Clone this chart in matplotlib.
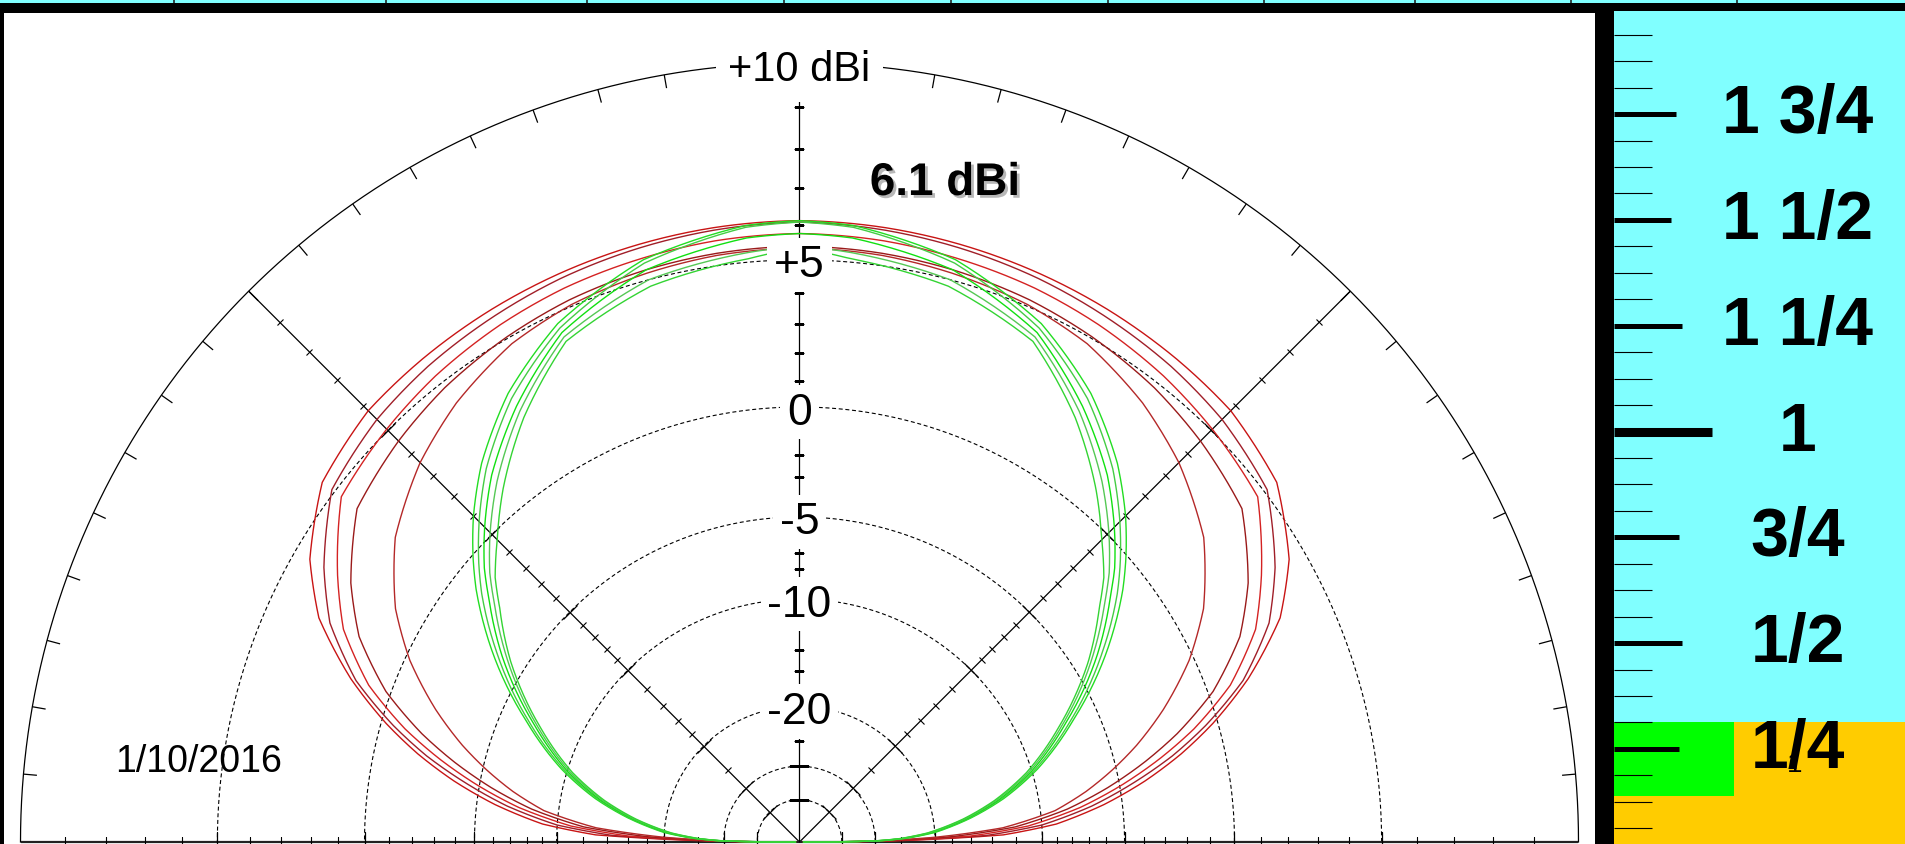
import numpy as np
import matplotlib
matplotlib.use('Agg')
import matplotlib.pyplot as plt
import matplotlib.patheffects as pe
from matplotlib.markers import MarkerStyle
from matplotlib.transforms import Affine2D
from matplotlib.patches import Rectangle

plt.rcParams['font.family'] = ['Liberation Sans', 'DejaVu Sans']

# --- elevation patterns, gain in dBi vs elevation angle (deg), symmetric ---
elev_red = [0, 0.5, 1, 2, 4, 7, 10, 13, 16, 20, 25, 30, 37, 45, 52, 60, 67, 75, 82, 90]
red_1 = [-80, -30, -22, -13, -9, -6, -3.7, -1.8, -0.2, 1.6, 3.4, 4.5, 5.45, 5.8, 5.88, 5.95, 6.0, 6.05, 6.09, 6.12]
red_2 = [-80, -31, -23.5, -14.5, -10, -6.7, -4.3, -2.2, -0.5, 1.4, 3.0, 4.0, 5.1, 5.45, 5.62, 5.75, 5.86, 5.95, 6.02, 6.08]
red_3 = [-80, -32, -25, -16, -11, -7.4, -4.9, -2.8, -1.0, 0.9, 2.5, 3.5, 4.75, 5.05, 5.27, 5.45, 5.57, 5.65, 5.72, 5.76]
red_4 = [-80, -33, -26.5, -18, -12, -8.2, -5.65, -3.55, -1.75, 0.2, 1.9, 3.0, 4.15, 4.55, 4.83, 5.05, 5.2, 5.3, 5.36, 5.4]
red_5 = [-80, -35, -28, -20, -13, -9, -6.9, -5.2, -3.7, -2.0, -0.2, 1.2, 2.6, 3.6, 4.25, 4.8, 5.05, 5.2, 5.3, 5.35]

elev_green = [0, 0.5, 1, 2, 4, 8, 12, 17, 24, 32, 38, 41, 45, 50, 57, 65, 75, 85, 90]
green_1 = [-80, -34, -28, -24, -20, -15.8, -12.6, -9.6, -6.4, -3.1, -1.0, -0.1, 1.0, 2.2, 3.55, 4.7, 5.6, 6.05, 6.12]
green_2 = [-80, -34.3, -28.3, -24.3, -20.3, -16.0, -12.8, -9.8, -6.6, -3.4, -1.3, -0.4, 0.7, 1.95, 3.35, 4.55, 5.5, 6.0, 6.08]
green_3 = [-80, -34.5, -28.5, -24.5, -20.5, -16.2, -13.0, -10.0, -6.9, -3.7, -1.7, -0.7, 0.4, 1.65, 3.05, 4.4, 5.3, 5.7, 5.76]
green_4 = [-80, -34.8, -28.8, -24.8, -20.8, -16.4, -13.2, -10.2, -7.1, -4.0, -2.0, -1.0, 0.1, 1.35, 2.85, 4.25, 5.0, 5.28, 5.40]
green_5 = [-80, -35, -29, -25, -21, -16.6, -13.4, -10.4, -7.3, -4.2, -2.3, -1.3, -0.3, 1.0, 2.6, 4.1, 4.8, 5.1, 5.35]

# --- grid ---
ring_db = [5, 0, -5, -10, -20, -30, -40]
label_db = [5, 0, -5, -10, -20]
label_txt = ['+5', '0', '-5', '-10', '-20']
minor_db = [9, 8, 7, 6, 4, 3, 2, 1, -1, -2, -3, -4, -6, -7, -8, -9,
            -12, -14, -16, -18, -25]
outer_tick_deg = [d for d in range(5, 180, 5) if d != 90]

# --- ruler panel ---
ruler_values = [1.75, 1.5, 1.25, 1.0, 0.75, 0.5, 0.25]
ruler_labels = ['1 3/4', '1 1/2', '1 1/4', '1', '3/4', '1/2', '1/4']


def arrl(db):
    return 0.89 ** ((10.0 - np.asarray(db, dtype=float)) / 2.0)


def arrl_inv(r):
    r = np.clip(np.asarray(r, dtype=float), 1e-300, None)
    return 10.0 - 2.0 * np.log(r) / np.log(0.89)


W, H = 1905, 845
fig = plt.figure(figsize=(W / 100, H / 100), dpi=100)
fig.patch.set_facecolor('black')

# background pieces in pixel coordinates
bg = fig.add_axes([0, 0, 1, 1])
bg.set_xlim(0, W)
bg.set_ylim(H, 0)
bg.axis('off')
bg.add_patch(Rectangle((0, 0), W, 4, color='#80FFFF', lw=0))
bg.vlines([174, 386, 587, 784, 951, 1108, 1264, 1415, 1571, 1737], 0, 4,
          color='#222222', lw=1.2)
bg.add_patch(Rectangle((4, 14), 1591, H - 14, color='white', lw=0))
bg.add_patch(Rectangle((1614, 12), W - 1614, 711, color='#80FFFF', lw=0))
bg.add_patch(Rectangle((1614, 723), W - 1614, H - 723, color='#FFCC00', lw=0))
bg.add_patch(Rectangle((1614, 723), 120, 74, color='#00FF00', lw=0))

# polar elevation plot (ARRL log scale); full disc, lower half off the canvas
cx, cy, R = 799.5, 843.0, 779.0
ax = fig.add_axes([(cx - R) / W, (H - cy - R) / H, 2 * R / W, 2 * R / H],
                  projection='polar')
ax.set_theta_zero_location('E')
ax.set_rscale('function', functions=(arrl, arrl_inv))
ax.set_rlim(-200, 10)
ax.set_xticks([])
ax.set_yticks([])
ax.grid(False)
for s in ax.spines.values():
    s.set_visible(False)
ax.patch.set_visible(False)

t = np.linspace(0, np.pi, 721)
ax.plot(t, np.full_like(t, 10.0), color='black', lw=0.9, clip_on=False)
for db in ring_db:
    ax.plot(t, np.full_like(t, float(db)), color='black', lw=0.8,
            ls=(0, (3.6, 2.4)))

ax.vlines(np.radians(outer_tick_deg), 9.7, 10, color='black', lw=0.9)
ax.vlines(np.radians([45, 135]), -200, 10, color='black', lw=0.9)
ax.vlines(np.radians([0, 180]), -200, 10, color='#222222', lw=1.6,
          clip_on=False)
ax.vlines(np.radians([90]), -200, 9.3, color='black', lw=0.9)

for th in [0, 45, 90, 135, 180]:
    m = MarkerStyle('_', transform=Affine2D().rotate_deg(th + 90))
    n = np.full(len(minor_db), np.radians(th))
    ax.plot(n, minor_db, ls='none', marker=m, ms=7, mew=0.8, color='black')
    n = np.full(len(ring_db), np.radians(th))
    ax.plot(n, ring_db, ls='none', marker=m, ms=14, mew=0.9, color='black')

red_cols = ['#C81414', '#A01E28', '#D42222', '#9A1A1A', '#B42828']
green_cols = ['#22DD22', '#44CC44', '#11E011', '#55C855', '#33D433']


def pattern(elev, vals, col):
    th = np.radians(elev)
    th = np.concatenate([th, np.pi - th[::-1]])
    rv = np.concatenate([vals, vals[::-1]])
    ln, = ax.plot(th, rv, color=col, lw=1.0, clip_on=False, zorder=3)
    # draw segments as arcs in the polar projection
    ln.get_path()._interpolation_steps = 24


for vals, col in zip([red_1, red_2, red_3, red_4, red_5], red_cols):
    pattern(elev_red, vals, col)
for vals, col in zip([green_1, green_2, green_3, green_4, green_5], green_cols):
    pattern(elev_green, vals, col)

box = dict(boxstyle='square,pad=0.15', fc='white', ec='none')
for db, lab in zip(label_db, label_txt):
    ax.annotate(lab, xy=(np.pi / 2, db), xytext=(0, -5),
                textcoords='offset pixels', ha='center', va='center',
                fontsize=32, bbox=box, zorder=6)
ax.annotate('+10 dBi', xy=(np.pi / 2, 10), xytext=(0, -6),
            textcoords='offset pixels', ha='center', va='center',
            fontsize=30, bbox=dict(boxstyle='square,pad=0.3', fc='white',
                                   ec='none'), zorder=6,
            annotation_clip=False)

fig.text(945 / W, 1 - 184 / H, '6.1 dBi', ha='center', va='center',
         fontsize=33, fontweight='bold',
         path_effects=[pe.withSimplePatchShadow(offset=(2, -2),
                                                shadow_rgbFace='#888888',
                                                alpha=0.6)])
fig.text(199 / W, 1 - 762 / H, '1/10/2016', ha='center', va='center',
         fontsize=27)

# ruler
rax = fig.add_axes([1614 / W, 0, (W - 1614) / W, 1])
rax.set_xlim(0, W - 1614)
rax.set_ylim(0.0253, 2.022)
rax.axis('off')
minor = [k / 16 for k in range(1, 32) if k % 4 != 0]
rax.hlines(minor, 0, 38, color='black', lw=0.8)
major_len = [62, 57, 68, 98, 65, 68, 65]
major_lw = [3.6, 3.6, 3.6, 6.5, 3.6, 3.6, 3.6]
for v, ln, lw in zip(ruler_values, major_len, major_lw):
    rax.hlines(v, 0, ln, color='black', lw=lw)
for v, lab in zip(ruler_values, ruler_labels):
    rax.text(184, v, lab, ha='center', va='center', fontsize=49,
             fontweight='bold')

fig.text(1795 / W, 1 - 765 / H, '1', ha='center', va='center', fontsize=20)

fig.savefig('out.png', dpi=100, facecolor=fig.get_facecolor())
